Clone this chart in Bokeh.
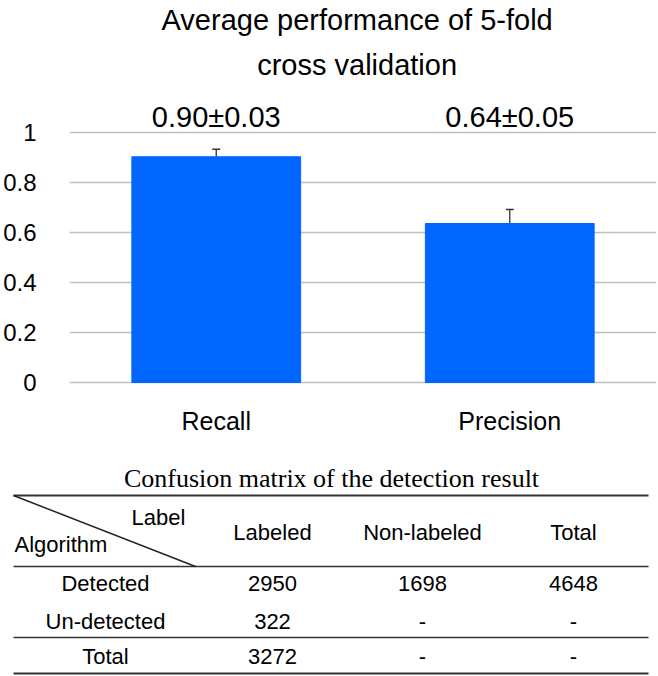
from bokeh.plotting import figure
from bokeh.models import Range1d, FactorRange, FixedTicker, ColumnDataSource, Whisker, TeeHead
from bokeh.core.properties import value
from bokeh.embed import file_html
from bokeh.resources import INLINE

# ---------------- data ----------------
metrics = ["Recall", "Precision"]
mean_values = [0.903, 0.636]
std_values = [0.030, 0.056]
value_labels = ["0.90±0.03", "0.64±0.05"]
y_ticks = [0, 0.2, 0.4, 0.6, 0.8, 1.0]
y_tick_labels = ["0", "0.2", "0.4", "0.6", "0.8", "1"]
chart_title = ["Average performance of 5-fold", "cross validation"]

table_title = "Confusion matrix of the detection result"
corner_top = "Label"
corner_bottom = "Algorithm"
col_headers = ["Labeled", "Non-labeled", "Total"]
row_headers = ["Detected", "Un-detected", "Total"]
cell_values = [["2950", "1698", "4648"],
               ["322", "-", "-"],
               ["3272", "-", "-"]]

# ---------------- styles ----------------
SANS = "Liberation Sans"
SERIF = "Liberation Serif"
BLUE = "#0066FF"
GRID = "#BFBFBF"
TXT = "#000000"
W = 658
H1 = 460
H2 = 216

# ---------------- bar chart ----------------
src = ColumnDataSource(dict(
    metric=metrics,
    mean=mean_values,
    upper=[m + s for m, s in zip(mean_values, std_values)],
    lower=[m - s for m, s in zip(mean_values, std_values)],
    label=value_labels,
))

p = figure(x_range=FactorRange(factors=metrics), y_range=Range1d(-0.02, 1.528),
           width=W, height=H1, output_backend="svg", toolbar_location=None,
           min_border_left=62, min_border_right=2, min_border_top=0, min_border_bottom=73)
p.outline_line_color = None
p.background_fill_color = "white"

p.vbar(x="metric", top="mean", width=0.575, source=src,
       fill_color=BLUE, line_color=BLUE)

err = Whisker(source=src, base="metric", upper="upper", lower="lower",
              line_color="#333333", line_width=1.3,
              upper_head=TeeHead(size=8, line_color="#333333", line_width=1.3),
              lower_head=TeeHead(size=8, line_color="#333333", line_width=1.3))
p.add_layout(err)

p.text(x="metric", y=1.064, text="label", source=src,
       text_font=value(SANS), text_font_size="29px", text_color=TXT,
       text_align="center", text_baseline="alphabetic")

title_src = ColumnDataSource(dict(x=[0.98, 0.98], y=[1.452, 1.272], text=chart_title))
p.text(x="x", y="y", text="text", source=title_src,
       text_font=value(SANS), text_font_size="29px", text_color=TXT,
       text_align="center", text_baseline="alphabetic")

p.xgrid.grid_line_color = None
p.ygrid.ticker = FixedTicker(ticks=y_ticks)
p.ygrid.grid_line_color = GRID
p.ygrid.grid_line_width = 1.5

p.yaxis.ticker = FixedTicker(ticks=y_ticks)
p.yaxis.major_label_overrides = {t: l for t, l in zip(y_ticks, y_tick_labels)}
for ax in (p.xaxis, p.yaxis):
    ax.axis_line_color = None
    ax.major_tick_line_color = None
    ax.minor_tick_line_color = None
    ax.major_label_text_font = SANS
    ax.major_label_text_color = TXT
p.yaxis.major_label_text_font_size = "24px"
p.xaxis.major_label_text_font_size = "25px"
p.yaxis.major_label_standoff = 27
p.xaxis.major_label_standoff = 13

# ---------------- table ----------------
t = figure(width=W, height=H2, x_range=Range1d(0, W), y_range=Range1d(H1 + H2, H1),
           output_backend="svg", toolbar_location=None,
           x_axis_location=None, y_axis_location=None,
           min_border_left=0, min_border_right=0, min_border_top=0, min_border_bottom=0)
t.outline_line_color = None
t.grid.visible = False

line_y = [495, 566, 637, 673]
line_w = [2.2, 1.6, 1.6, 2.2]
t.segment(x0=[13] * 4, y0=line_y, x1=[648] * 4, y1=line_y,
          line_color="#333333", line_width=line_w)
t.segment(x0=[13], y0=[495], x1=[195], y1=[566], line_color="#222222", line_width=1.5)

t.text(x=[331], y=[478], text=[table_title], text_font=value(SERIF),
       text_font_size="26px", text_color=TXT, text_align="center", text_baseline="middle")

t.text(x=[158], y=[517], text=[corner_top], text_font=value(SANS),
       text_font_size="22px", text_color=TXT, text_align="center", text_baseline="middle")
t.text(x=[14], y=[544], text=[corner_bottom], text_font=value(SANS),
       text_font_size="22px", text_color=TXT, text_align="left", text_baseline="middle")

col_x = [272, 422, 573]
row_y = [583, 621, 656]
t.text(x=col_x, y=[532] * 3, text=col_headers, text_font=value(SANS),
       text_font_size="22px", text_color=TXT, text_align="center", text_baseline="middle")
t.text(x=[105] * 3, y=row_y, text=row_headers, text_font=value(SANS),
       text_font_size="22px", text_color=TXT, text_align="center", text_baseline="middle")

cx, cy, ct = [], [], []
for r, row in enumerate(cell_values):
    for c, v in enumerate(row):
        cx.append(col_x[c]); cy.append(row_y[r]); ct.append(v)
t.text(x=cx, y=cy, text=ct, text_font=value(SANS),
       text_font_size="22px", text_color=TXT, text_align="center", text_baseline="middle")

open("out.html", "w").write(file_html([p, t], INLINE))
